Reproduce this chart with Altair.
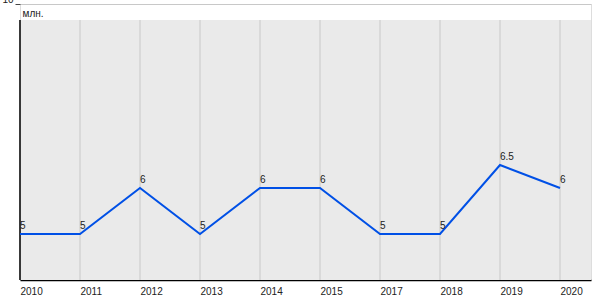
import altair as alt
import pandas as pd

years = ["2010", "2011", "2012", "2013", "2014", "2015", "2017", "2018", "2019", "2020"]
values = [5, 5, 6, 5, 6, 6, 5, 5, 6.5, 6]
labels = ["5", "5", "6", "5", "6", "6", "5", "5", "6.5", "6"]

W, H = 571, 276
FONT = "Liberation Sans"

df = pd.DataFrame({"year": years, "value": values, "label": labels})
bg_df = pd.DataFrame({"a": [0]})

pad = (W / 60.0 - (len(years) - 1)) / 2.0
xscale = alt.Scale(type="point", domain=years, padding=pad, align=0)
yscale = alt.Scale(domain=[4, 10], nice=False, zero=False)

bg = alt.Chart(bg_df).mark_rect(color="#eaeaea").encode(
    x=alt.value(0), x2=alt.value(W), y=alt.value(16), y2=alt.value(H)
)

grid = alt.Chart(df).mark_rule(color="#c8c8c8", strokeWidth=1).encode(
    x=alt.X("year:O", scale=xscale,
            axis=alt.Axis(labelAlign="left", labelAngle=0,
                          ticks=False, grid=False, domainColor="black",
                          domainWidth=1.5, labelFont=FONT, labelFontSize=10,
                          labelColor="#222", labelPadding=6, title=None)),
    y=alt.value(16), y2=alt.value(H)
)

left = alt.Chart(bg_df).mark_rule(color="black", strokeWidth=1.5).encode(
    x=alt.value(0), y=alt.value(16), y2=alt.value(H)
)

line = alt.Chart(df).mark_line(color="#0050e6", strokeWidth=2).encode(
    x=alt.X("year:O", scale=xscale),
    y=alt.Y("value:Q", scale=yscale,
            axis=alt.Axis(values=[10], grid=True, gridColor="#c8c8c8",
                          domain=False, tickColor="#444", tickSize=5,
                          labelBaseline="bottom", labelFont=FONT,
                          labelFontSize=10, labelColor="#222",
                          title="млн.", titleAngle=0, titleX=2, titleY=9,
                          titleAlign="left", titleBaseline="middle",
                          titleFont=FONT, titleFontSize=10,
                          titleFontWeight="normal", titleColor="#222")),
)

text = alt.Chart(df).mark_text(align="left", baseline="bottom", dy=-3,
                               font=FONT, fontSize=10, color="#222").encode(
    x=alt.X("year:O", scale=xscale),
    y=alt.Y("value:Q", scale=yscale),
    text="label:N",
)

chart = alt.layer(bg, grid, left, line, text).properties(
    width=W, height=H,
    padding={"left": 20, "top": 4, "right": 9, "bottom": 20},
    autosize="none",
).configure_view(stroke=None).configure(background="white")

chart.save("out.html", embed_options={"renderer": "svg", "actions": False})
